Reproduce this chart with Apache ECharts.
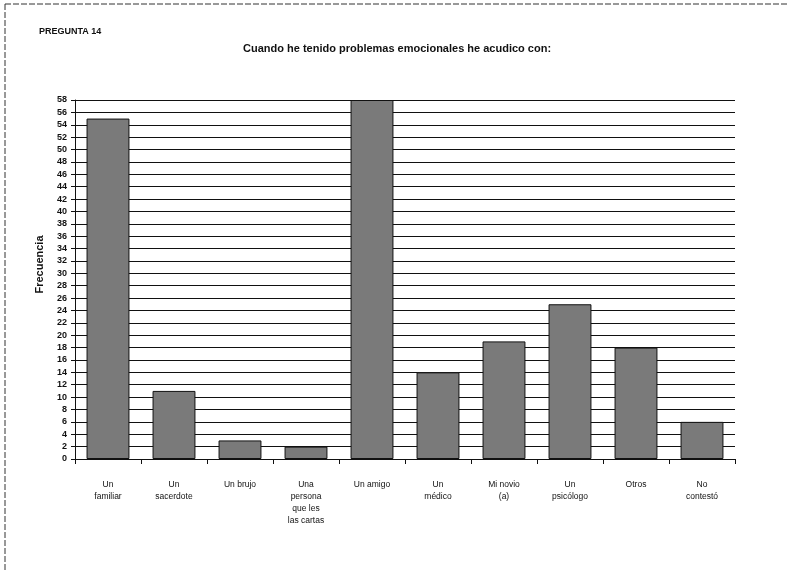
<!DOCTYPE html>
<html><head><meta charset="utf-8">
<script src="https://cdn.jsdelivr.net/npm/echarts@6/dist/echarts.min.js"></script>
<style>html,body{margin:0;padding:0;background:#fff}#c{width:789px;height:572px}</style>
</head><body><div id="c"></div>
<script>
var categories = ["Un\nfamiliar", "Un\nsacerdote", "Un brujo", "Una\npersona\nque les\nlas cartas", "Un amigo", "Un\nmédico", "Mi novio\n(a)", "Un\npsicólogo", "Otros", "No\ncontestó"];
var values = [55, 11, 3, 2, 58, 14, 19, 25, 18, 6];
var yMin = 0, yMax = 58, yStep = 2;
var titleText = "Cuando he tenido problemas emocionales he acudico con:";
var headerText = "PREGUNTA 14";
var yName = "Frecuencia";

var chart = echarts.init(document.getElementById('c'), null, {renderer: 'canvas'});
chart.setOption({
  animation: false,
  backgroundColor: '#fff',
  title: [
    {text: headerText, left: 34, top: 22, textStyle: {fontFamily: 'Liberation Sans, Arial', fontSize: 9, fontWeight: 'bold', color: '#111'}},
    {text: titleText, left: 238, top: 38, textStyle: {fontFamily: 'Liberation Sans, Arial', fontSize: 11, fontWeight: 'bold', color: '#111'}}
  ],
  graphic: [
    {type: 'line', shape: {x1: 5, y1: 4, x2: 789, y2: 4}, style: {stroke: '#333', lineWidth: 1, lineDash: [6, 2]}},
    {type: 'line', shape: {x1: 5, y1: 4, x2: 5, y2: 572}, style: {stroke: '#333', lineWidth: 1, lineDash: [6, 2]}}
  ],
  grid: {left: 75, right: 54, top: 100, bottom: 113, containLabel: false},
  xAxis: {
    type: 'category', data: categories,
    axisLine: {lineStyle: {color: '#111', width: 1}},
    axisTick: {show: true, length: 5, lineStyle: {color: '#111'}},
    axisLabel: {interval: 0, margin: 20, fontFamily: 'Liberation Sans, Arial', fontSize: 8.5, color: '#111', lineHeight: 12}
  },
  yAxis: {
    type: 'value', min: yMin, max: yMax, interval: yStep,
    name: yName, nameLocation: 'middle', nameGap: 30, nameRotate: 90,
    nameTextStyle: {fontFamily: 'Liberation Sans, Arial', fontSize: 11, fontWeight: 'bold', color: '#111', padding: [0, 0, 0, 30]},
    axisLine: {show: true, lineStyle: {color: '#111'}},
    axisTick: {show: true, length: 4, lineStyle: {color: '#111'}},
    axisLabel: {fontFamily: 'Liberation Sans, Arial', fontSize: 9, fontWeight: 'bold', color: '#111', margin: 8},
    splitLine: {show: true, lineStyle: {color: '#111', width: 1.2}}
  },
  series: [{
    type: 'bar', data: values, barWidth: '65%',
    itemStyle: {color: '#7a7a7a', borderColor: '#111', borderWidth: 1},
    z: 3
  }]
});
</script></body></html>
